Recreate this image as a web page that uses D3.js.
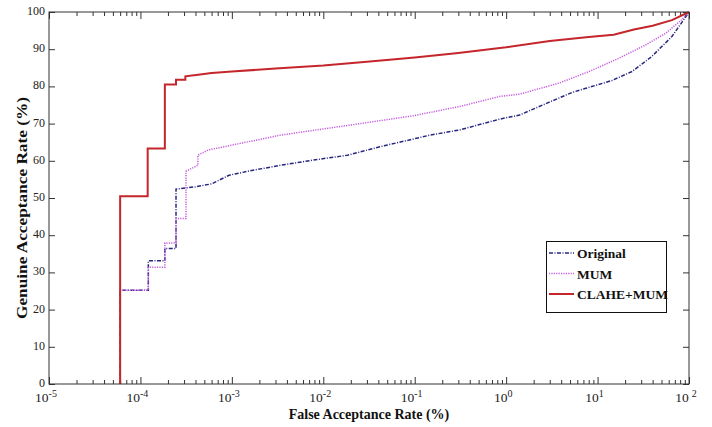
<!DOCTYPE html>
<html><head><meta charset="utf-8">
<script src="https://cdn.jsdelivr.net/npm/d3@7"></script>
<style>body{margin:0;background:#fff}svg{display:block}</style>
</head><body>
<svg id="c" width="712" height="427"></svg>
<script>
// ---- data (FAR %, GAR %) ----
const seriesNames = ["Original", "MUM", "CLAHE+MUM"];
const originalFAR = [6e-5,6e-5,1.22e-4,1.22e-4,1.85e-4,1.85e-4,2.45e-4,2.45e-4,4e-4,6e-4,9.3e-4,1.5e-3,3.4e-3,7.8e-3,1.84e-2,4.2e-2,0.147,0.31,0.85,1.4,2.8,5.3,14.4,23.8,39,65,88,100];
const originalGAR = [0,25.2,25.2,33.1,33.1,36.4,36.4,52.4,53,53.8,56.1,57.2,58.8,60.2,61.5,63.8,66.9,68.3,71.2,72.3,75.5,78.4,81.6,84,88,93.4,98,100];
const mumFAR = [6e-5,6e-5,1.22e-4,1.22e-4,1.85e-4,1.85e-4,2.45e-4,2.45e-4,3.15e-4,3.15e-4,4.25e-4,4.25e-4,5.5e-4,1e-3,3.4e-3,1.84e-2,0.096,0.31,0.85,1.4,3.8,8.1,17.2,33.8,55.7,83,100];
const mumGAR = [0,25.2,25.2,31.4,31.4,37.9,37.9,44.5,44.5,57.2,58.8,61.5,62.9,64.2,66.9,69.5,72.1,74.6,77.3,77.9,80.9,84,87.6,91.2,94.3,97.9,100];
const claheFAR = [6e-5,6e-5,1.2e-4,1.2e-4,1.85e-4,1.85e-4,2.45e-4,2.45e-4,3.1e-4,3.1e-4,4.5e-4,6e-4,1e-3,3e-3,1e-2,3e-2,0.1,0.3,1,3,8,15,25,40,65,100];
const claheGAR = [0,50.5,50.5,63.3,63.3,80.5,80.5,81.8,81.8,82.7,83.2,83.6,84.0,84.8,85.6,86.6,87.8,89.0,90.5,92.2,93.3,93.9,95.3,96.3,97.8,100];
const yTicks = [0,10,20,30,40,50,60,70,80,90,100];
const xDecadeExps = [-5,-4,-3,-2,-1,0,1,2];

const svg = d3.select("#c");
const L = 49, R = 689, T = 12, B = 384;
const x = d3.scaleLog().domain([1e-5, 100]).range([L, R]);
const y = d3.scaleLinear().domain([0, 100]).range([B, T]);

const serif = "'Liberation Serif','Times New Roman',serif";

const xMajor = xDecadeExps.map(e => Math.pow(10, e));
const xMinor = [];
xDecadeExps.slice(0, -1).forEach(e => { for (let k = 2; k <= 9; k++) xMinor.push(k * Math.pow(10, e)); });

function styleAxis(g){ g.select(".domain").remove(); g.selectAll("line").attr("stroke","#333").attr("stroke-width",1); g.selectAll("text").remove(); }

svg.append("g").attr("transform",`translate(0,${B})`).call(d3.axisBottom(x).tickValues(xMinor).tickSize(-4).tickFormat("")).call(styleAxis);
svg.append("g").attr("transform",`translate(0,${B})`).call(d3.axisBottom(x).tickValues(xMajor).tickSize(-7).tickFormat("")).call(styleAxis);
svg.append("g").attr("transform",`translate(0,${T})`).call(d3.axisTop(x).tickValues(xMinor).tickSize(-4).tickFormat("")).call(styleAxis);
svg.append("g").attr("transform",`translate(0,${T})`).call(d3.axisTop(x).tickValues(xMajor).tickSize(-7).tickFormat("")).call(styleAxis);
svg.append("g").attr("transform",`translate(${L},0)`).call(d3.axisLeft(y).tickValues(yTicks).tickSize(-6).tickFormat("")).call(styleAxis);
svg.append("g").attr("transform",`translate(${R},0)`).call(d3.axisRight(y).tickValues(yTicks).tickSize(-6).tickFormat("")).call(styleAxis);

// y tick labels
svg.append("g").selectAll("text").data(yTicks).join("text")
  .attr("x", L - 4).attr("y", d => y(d) + 3)
  .attr("text-anchor","end").attr("font-family",serif).attr("font-size",12).attr("fill","#222")
  .text(d => d);

// x tick labels
const xl = svg.append("g").selectAll("text").data(xDecadeExps).join("text")
  .attr("x", e => x(Math.pow(10,e)) - 3).attr("y", 402)
  .attr("text-anchor","middle").attr("font-family",serif).attr("font-size",13.5).attr("fill","#222");
xl.append("tspan").text("10");
xl.append("tspan").attr("dy",-5).attr("dx", e => e === 2 ? 3 : 0).attr("font-size",10).text(e => e < 0 ? "-" + (-e) : String(e));

// axis titles
svg.append("text").attr("x", (L+R)/2).attr("y", 419).attr("text-anchor","middle")
  .attr("font-family",serif).attr("font-weight","bold").attr("font-size",14).attr("fill","#111")
  .text("False Acceptance Rate (%)");
svg.append("text").attr("transform",`translate(27,208) rotate(-90)`).attr("text-anchor","middle")
  .attr("font-family",serif).attr("font-weight","bold").attr("font-size",14).attr("fill","#111")
  .attr("textLength",222).attr("lengthAdjust","spacingAndGlyphs")
  .text("Genuine Acceptance Rate (%)");

// curves
const line = d3.line().x(d => x(d[0])).y(d => y(d[1]));
const styles = [
  {color:"#27277f", dash:"4,1.5,1,1.5", w:1.5},
  {color:"#c65be0", dash:"1.2,1.2", w:1.5},
  {color:"#c4262c", dash:null, w:2}
];
const series = [d3.zip(originalFAR, originalGAR), d3.zip(mumFAR, mumGAR), d3.zip(claheFAR, claheGAR)];
series.forEach((s, i) => {
  svg.append("path").datum(s).attr("d", line).attr("fill","none")
    .attr("stroke", styles[i].color).attr("stroke-width", styles[i].w)
    .attr("stroke-dasharray", styles[i].dash);
});

// frame
svg.append("rect").attr("x",L).attr("y",T).attr("width",R-L).attr("height",B-T)
  .attr("fill","none").attr("stroke","#333").attr("stroke-width",1);

// legend
const lg = svg.append("g");
lg.append("rect").attr("x",546.5).attr("y",241.5).attr("width",120).attr("height",71)
  .attr("fill","#fff").attr("stroke","#111").attr("stroke-width",1);
seriesNames.forEach((n, i) => {
  const yy = 253 + i * 20.5;
  lg.append("line").attr("x1",549).attr("x2",574).attr("y1",yy).attr("y2",yy)
    .attr("stroke",styles[i].color).attr("stroke-width",styles[i].w).attr("stroke-dasharray",styles[i].dash);
  lg.append("text").attr("x",577).attr("y",yy+5).attr("font-family",serif).attr("font-weight","bold")
    .attr("font-size",13.5).attr("fill","#111").text(n);
});
</script>
</body></html>
